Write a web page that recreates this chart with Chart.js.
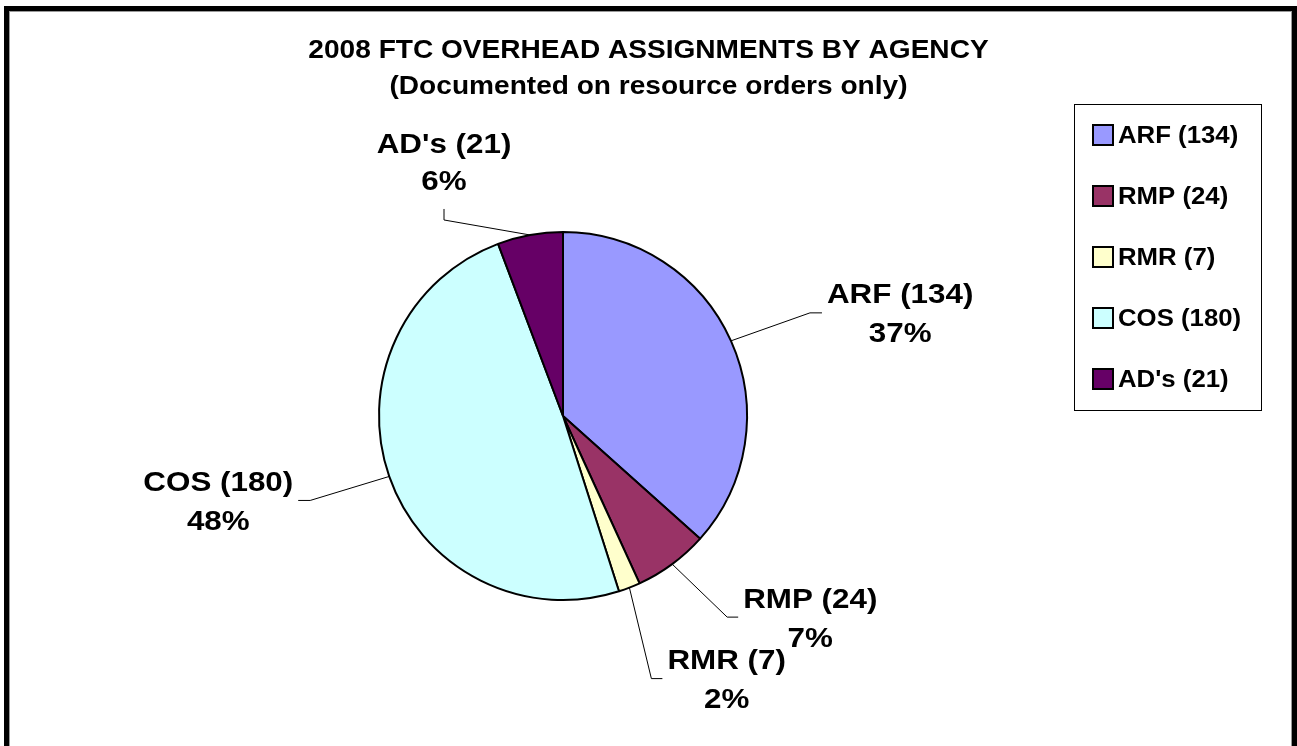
<!DOCTYPE html>
<html>
<head>
<meta charset="utf-8">
<title>2008 FTC Overhead Assignments by Agency</title>
<script src="https://cdn.jsdelivr.net/npm/chart.js@4.4.0/dist/chart.umd.min.js"></script>
<style>
    body { margin: 0; background: #fff; }
    #wrap { position: relative; width: 1297px; height: 746px; overflow: hidden; }
    #chart { position: absolute; left: 0; top: 0; }
    #frame {
        position: absolute; left: 4px; top: 6px; width: 1293px; height: 800px;
        border: 5px solid #000; box-sizing: border-box;
        box-shadow: inset 1px 1px 0 #999, inset -1px 0 0 #999;
        pointer-events: none;
    }
</style>
</head>
<body>
<div id="wrap">
    <canvas id="chart" width="1297" height="746"></canvas>
    <div id="frame"></div>
</div>
<script>
// Chart data
const agencies = ['ARF (134)', 'RMP (24)', 'RMR (7)', 'COS (180)', "AD's (21)"];
const assignments = [134, 24, 7, 180, 21];
const percentLabels = ['37%', '7%', '2%', '48%', '6%'];
const titleLines = ['2008 FTC OVERHEAD ASSIGNMENTS BY AGENCY', '(Documented on resource orders only)'];

const sliceColors = ['#9999FF', '#993366', '#FFFFCC', '#CCFFFF', '#660066'];

const FONT = '"Liberation Sans", Arial, sans-serif';

// Leader lines: elbow offset from slice edge, then a short tail
const leaders = [
    { dx: 79, dy: -28, tail: 12, side: 'right' },
    { dx: 55, dy: 53, tail: 11, side: 'right' },
    { dx: 22, dy: 91, tail: 11, side: 'right' },
    { dx: -79, dy: 24, tail: -12, side: 'left' },
    { dx: -86, dy: -15, tail: -11, side: 'top' }
];

// Draw text a little wider than the font, like the original
function stretchedText(ctx, text, x, y, align, stretch) {
    const w = ctx.measureText(text).width * stretch;
    let left = x;
    if (align === 'center') left = x - w / 2;
    if (align === 'right') left = x - w;
    ctx.save();
    ctx.translate(left, y);
    ctx.scale(stretch, 1);
    ctx.textAlign = 'left';
    ctx.textBaseline = 'alphabetic';
    ctx.fillText(text, 0, 0);
    ctx.restore();
    return w;
}

const annotations = {
    id: 'annotations',
    afterDraw(chart) {
        const ctx = chart.ctx;
        const arcs = chart.getDatasetMeta(0).data;
        ctx.save();
        ctx.fillStyle = '#000';

        // Title
        ctx.font = `bold 26px ${FONT}`;
        stretchedText(ctx, titleLines[0], 648.5, 58, 'center', 1.08);
        stretchedText(ctx, titleLines[1], 648.5, 94, 'center', 1.08);

        // Slice labels with leader lines
        const S = 1.12;
        ctx.font = `bold 28px ${FONT}`;
        arcs.forEach((arc, i) => {
            const p = arc.getProps(['x', 'y', 'startAngle', 'endAngle', 'outerRadius'], true);
            const mid = (p.startAngle + p.endAngle) / 2;
            const ex = p.x + Math.cos(mid) * p.outerRadius;
            const ey = p.y + Math.sin(mid) * p.outerRadius;
            const L = leaders[i];
            const bx = ex + L.dx, by = ey + L.dy;
            let tx = bx, ty = by;
            if (L.side === 'top') ty = by + L.tail; else tx = bx + L.tail;

            ctx.beginPath();
            ctx.strokeStyle = '#000';
            ctx.lineWidth = 1;
            ctx.moveTo(ex, ey);
            ctx.lineTo(bx, by);
            ctx.lineTo(tx, ty);
            ctx.stroke();

            const lines = [agencies[i], percentLabels[i]];
            const blockW = Math.max(...lines.map(t => ctx.measureText(t).width * S));
            let cx, y1, y2;
            if (L.side === 'right') {
                cx = tx + 5 + blockW / 2; y1 = ty - 19.5; y2 = ty + 19.5;
            } else if (L.side === 'left') {
                cx = tx - 5 - blockW / 2; y1 = ty - 19.5; y2 = ty + 19.5;
            } else {
                cx = tx; y1 = ty - 66; y2 = ty - 29;
            }
            stretchedText(ctx, lines[0], cx, y1 + 10, 'center', S);
            stretchedText(ctx, lines[1], cx, y2 + 10, 'center', S);
        });

        // Legend
        const leg = { left: 1074, top: 104, right: 1261, bottom: 410, rowY: 135, step: 61, box: 20, boxX: 1093, textX: 1118 };
        ctx.strokeStyle = '#000';
        ctx.lineWidth = 1;
        ctx.strokeRect(leg.left + 0.5, leg.top + 0.5, leg.right - leg.left, leg.bottom - leg.top);
        ctx.font = `bold 23px ${FONT}`;
        agencies.forEach((name, i) => {
            const y = leg.rowY + i * leg.step;
            ctx.fillStyle = sliceColors[i];
            ctx.fillRect(leg.boxX, y - leg.box / 2, leg.box, leg.box);
            ctx.lineWidth = 2;
            ctx.strokeRect(leg.boxX, y - leg.box / 2, leg.box, leg.box);
            ctx.fillStyle = '#000';
            stretchedText(ctx, name, leg.textX, y + 8, 'left', 1.12);
        });
        ctx.restore();
    }
};

new Chart(document.getElementById('chart'), {
    type: 'pie',
    data: {
        labels: agencies,
        datasets: [{
            data: assignments,
            backgroundColor: sliceColors,
            borderColor: '#000',
            borderWidth: 2,
            hoverOffset: 0
        }]
    },
    options: {
        responsive: false,
        animation: false,
        events: [],
        devicePixelRatio: 1,
        layout: { padding: { left: 378, top: 231, right: 549, bottom: 145 } },
        plugins: {
            legend: { display: false },
            tooltip: { enabled: false },
            title: { display: false }
        }
    },
    plugins: [annotations]
});
</script>
</body>
</html>
